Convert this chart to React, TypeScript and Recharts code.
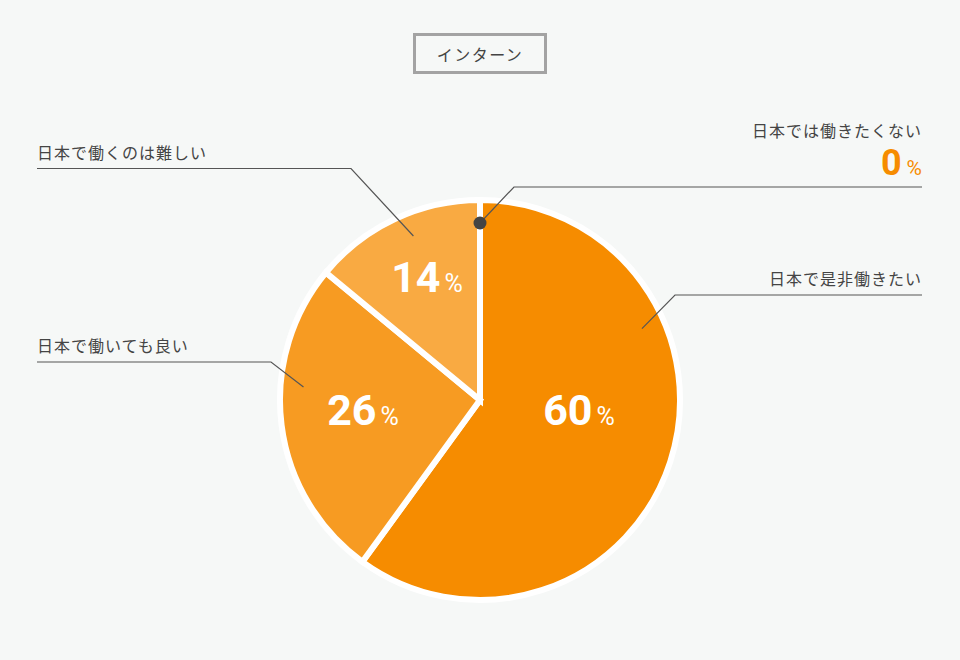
import React from 'react';
import { PieChart, Pie, Cell } from 'recharts';

const categories = ['日本で是非働きたい', '日本で働いても良い', '日本で働くのは難しい', '日本では働きたくない'];
const values = [60, 26, 14, 0];
const sliceColors = ['#F68C00', '#F79B22', '#F9AA42', '#F68C00'];
const title = 'インターン';

const data = categories.map((name, i) => ({ name, value: values[i] }));

// annotation layout (relative to pie centre)
const LABEL_LAYOUT = [
  { tipAngle: 23.8, elbow: [195, -105], endX: 922, side: 'right', pct: [99, 25], dot: false },
  { tipAngle: 175.8, elbow: [-209, -38], endX: 37, side: 'left', pct: [-117, 25], dot: false },
  { tipAngle: 112.1, elbow: [-129, -231.5], endX: 37, side: 'left', pct: [-53, -108], dot: false },
  { tipAngle: 90, elbow: [34, -213], endX: 922, side: 'right', pct: null, dot: true },
];

const FONT = '"Noto Sans CJK JP", "Noto Sans", sans-serif';
const NUM_FONT = 'Roboto, "Noto Sans", sans-serif';
const TEXT_COLOR = '#444444';
const LINE_COLOR = '#555555';
const ORANGE = '#F68C00';

const renderLabel = (props: any) => {
  const { cx, cy, index, value } = props;
  const L = LABEL_LAYOUT[index];
  if (!L) return null;
  const tipR = 177;
  const rad = (L.tipAngle * Math.PI) / 180;
  const tx = cx + tipR * Math.cos(rad);
  const ty = cy - tipR * Math.sin(rad);
  const ex = cx + L.elbow[0];
  const ey = cy + L.elbow[1];
  const anchor = L.side === 'right' ? 'end' : 'start';
  return (
    <g key={`lbl-${index}`}>
      <polyline
        points={`${tx},${ty} ${ex},${ey} ${L.endX},${ey}`}
        fill="none"
        stroke={LINE_COLOR}
        strokeWidth={1.2}
      />
      {L.dot && <circle cx={tx} cy={ty} r={6.5} fill="#444" />}
      {L.dot ? (
        <>
          <text x={L.endX} y={ey - 50} textAnchor={anchor} fontFamily={FONT} fontSize={16} letterSpacing={1} fill={TEXT_COLOR}>
            {categories[index]}
          </text>
          <text x={L.endX} y={ey - 12} textAnchor="end" fill={ORANGE}>
            <tspan fontFamily={NUM_FONT} fontWeight={700} fontSize={36}>{value}</tspan>
            <tspan fontFamily={NUM_FONT} fontSize={21} dx={5}>%</tspan>
          </text>
        </>
      ) : (
        <text x={L.endX} y={ey - 10} textAnchor={anchor} fontFamily={FONT} fontSize={16} letterSpacing={1} fill={TEXT_COLOR}>
          {categories[index]}
        </text>
      )}
      {L.pct && (
        <text x={cx + L.pct[0]} y={cy + L.pct[1]} textAnchor="middle" fill="#ffffff">
          <tspan fontFamily={NUM_FONT} fontWeight={700} fontSize={43}>{value}</tspan>
          <tspan fontFamily={NUM_FONT} fontSize={25} dx={4}>%</tspan>
        </text>
      )}
    </g>
  );
};

export default function App() {
  return (
    <div
      style={{
        position: 'fixed',
        left: 0,
        top: 0,
        width: 960,
        height: 660,
        background: '#F6F8F7',
      }}
    >
      <div
        style={{
          position: 'absolute',
          left: 413,
          top: 33,
          width: 134,
          height: 41,
          boxSizing: 'border-box',
          border: '3px solid #A3A3A3',
          display: 'flex',
          alignItems: 'center',
          justifyContent: 'center',
          fontFamily: FONT,
          fontSize: 16,
          letterSpacing: 1.5,
          color: TEXT_COLOR,
        }}
      >
        {title}
      </div>
      <PieChart width={960} height={660} margin={{ top: 0, right: 0, bottom: 0, left: 0 }}>
        <Pie
          data={data}
          dataKey="value"
          nameKey="name"
          cx={480}
          cy={400}
          outerRadius={200}
          startAngle={90}
          endAngle={-270}
          stroke="#ffffff"
          strokeWidth={6}
          isAnimationActive={false}
          labelLine={false}
          label={renderLabel}
        >
          {data.map((d, i) => (
            <Cell key={d.name} fill={sliceColors[i]} />
          ))}
        </Pie>
      </PieChart>
    </div>
  );
}
